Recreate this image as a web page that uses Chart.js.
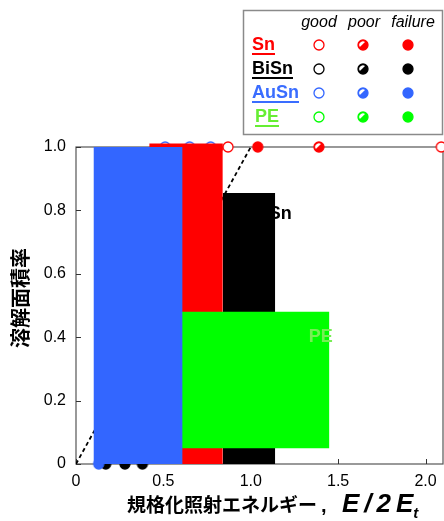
<!DOCTYPE html>
<html>
<head>
<meta charset="utf-8">
<script src="https://cdn.jsdelivr.net/npm/chart.js@4.4.1/dist/chart.umd.min.js"></script>
<style>
  html, body { margin: 0; padding: 0; background: #ffffff; }
  canvas { display: block; }
</style>
</head>
<body>
<canvas id="chart" width="444" height="521"></canvas>
<script>
// ---- Melted-area bands: energy range (x) and melted-area-fraction range (y) ----
const bandNames  = ['AuSn', 'PE', 'BiSn', 'Sn'];
const bandXStart = [0.10, 0.605, 0.84, 0.42];
const bandXEnd   = [0.61, 1.45, 1.14, 0.84];
const bandYLow   = [0.00, 0.05, 0.00, 0.00];
const bandYHigh  = [1.00, 0.48, 0.855, 1.00];

// ---- Individual test results (normalised energy, melted fraction) ----
const snGoodX    = [0.87, 2.09];
const snGoodY    = [1.0, 1.0];
const snPoorX    = [1.39];
const snPoorY    = [1.0];
const snFailX    = [1.04];
const snFailY    = [1.0];
const auSnGoodX  = [0.51, 0.65, 0.77];
const auSnGoodY  = [1.0, 1.0, 1.0];
const auSnFailX  = [0.13];
const auSnFailY  = [0.0];
const biSnFailX  = [0.17, 0.28, 0.38];
const biSnFailY  = [0.0, 0.0, 0.0];

// ---- Reference line E/2Et = melted fraction ----
const refLineX = [0, 1];
const refLineY = [0, 1];

// ---- Axes ----
const xTicks      = [0, 0.5, 1.0, 1.5, 2.0];
const xTickLabels = ['0', '0.5', '1.0', '1.5', '2.0'];
const yTicks      = [0, 0.2, 0.4, 0.6, 0.8, 1.0];
const yTickLabels = ['0', '0.2', '0.4', '0.6', '0.8', '1.0'];

// ---- In-plot band captions ----
const captionText = ['BiSn', 'PE'];
const captionX    = [1.117, 1.40];
const captionY    = [0.79, 0.40];

// ---- Legend ----
const legendSeries  = ['Sn', 'BiSn', 'AuSn', 'PE'];
const legendStates  = ['good', 'poor', 'failure'];

const COLORS = { Sn: '#ff0000', BiSn: '#000000', AuSn: '#3366ff', PE: '#00ff00' };
const LEGEND_TEXT = { Sn: '#ff0000', BiSn: '#000000', AuSn: '#3a6dff', PE: '#66ee33' };
const CAPTION_COLOR = { BiSn: '#000000', PE: '#77ee55' };
// the Sn band's top edge is stroked thick so it rises a little above the frame
const BAND_EDGE = { AuSn: 0, PE: 0, BiSn: 0, Sn: 7 };

const SANS = '"Liberation Sans", Arial, sans-serif';
const CJK = '"Noto Sans CJK JP", "Noto Sans CJK SC", sans-serif';
const R = 5;

function pts(xs, ys) { return xs.map((x, i) => ({ x: x, y: ys[i] })); }

// marker drawing shared by plot and legend
function drawMarker(ctx, x, y, color, state) {
  ctx.save();
  ctx.lineWidth = 1.3;
  ctx.strokeStyle = color;
  ctx.beginPath();
  ctx.arc(x, y, R, 0, Math.PI * 2);
  if (state === 'good') {
    ctx.fillStyle = '#ffffff';
    ctx.fill();
    ctx.stroke();
  } else if (state === 'failure') {
    ctx.fillStyle = color;
    ctx.fill();
    ctx.stroke();
  } else {
    ctx.fillStyle = color;
    ctx.fill();
    ctx.stroke();
    ctx.beginPath();
    ctx.arc(x, y, R - 1.3, Math.PI * 0.82, Math.PI * 1.68);
    ctx.closePath();
    ctx.fillStyle = '#ffffff';
    ctx.fill();
  }
  ctx.restore();
}

function markerImage(color, state) {
  const c = document.createElement('canvas');
  c.width = 14; c.height = 14;
  drawMarker(c.getContext('2d'), 7, 7, color, state);
  return c;
}

function bandDataset(name) {
  const i = bandNames.indexOf(name);
  return {
    label: name,
    data: pts([bandXStart[i], bandXEnd[i]], [bandYHigh[i], bandYHigh[i]]),
    borderWidth: BAND_EDGE[name],
    borderColor: COLORS[name],
    borderCapStyle: 'butt',
    pointRadius: 0,
    backgroundColor: COLORS[name],
    fill: { value: bandYLow[i] },
    clip: false
  };
}

function markerDataset(name, state, xs, ys) {
  return {
    label: name + ' ' + state,
    data: pts(xs, ys),
    showLine: false,
    pointStyle: markerImage(COLORS[name], state),
    pointRadius: 7,
    clip: false
  };
}

// first listed dataset is painted last (on top)
const datasets = [
  bandDataset('AuSn'),
  markerDataset('Sn', 'poor', snPoorX, snPoorY),
  markerDataset('Sn', 'failure', snFailX, snFailY),
  markerDataset('Sn', 'good', snGoodX, snGoodY),
  bandDataset('PE'),
  bandDataset('BiSn'),
  bandDataset('Sn'),
  markerDataset('AuSn', 'good', auSnGoodX, auSnGoodY),
  markerDataset('AuSn', 'failure', auSnFailX, auSnFailY),
  markerDataset('BiSn', 'failure', biSnFailX, biSnFailY),
  {
    label: 'reference',
    data: pts(refLineX, refLineY),
    borderColor: '#000000',
    borderWidth: 1.8,
    borderDash: [4, 3],
    pointRadius: 0,
    fill: false
  }
];

// frame and inward tick marks, below the data
const framePlugin = {
  id: 'frame',
  beforeDatasetsDraw(chart) {
    const { ctx, chartArea: a, scales } = chart;
    ctx.save();
    ctx.strokeStyle = '#555555';
    ctx.lineWidth = 1.2;
    ctx.strokeRect(a.left, a.top, a.right - a.left, a.bottom - a.top);
    ctx.strokeStyle = '#333333';
    ctx.lineWidth = 1;
    ctx.beginPath();
    xTicks.forEach(v => {
      const px = Math.round(scales.x.getPixelForValue(v)) + 0.5;
      ctx.moveTo(px, a.bottom); ctx.lineTo(px, a.bottom - 5);
    });
    yTicks.forEach(v => {
      const py = Math.round(scales.y.getPixelForValue(v)) + 0.5;
      ctx.moveTo(a.left, py); ctx.lineTo(a.left + 5, py);
    });
    ctx.stroke();
    ctx.restore();
  }
};

// band captions on top of the data
const captionPlugin = {
  id: 'captions',
  afterDatasetsDraw(chart) {
    const { ctx, scales } = chart;
    ctx.save();
    ctx.font = 'bold 18px ' + SANS;
    ctx.textAlign = 'center';
    ctx.textBaseline = 'middle';
    captionText.forEach((t, i) => {
      ctx.fillStyle = CAPTION_COLOR[t];
      ctx.fillText(t, scales.x.getPixelForValue(captionX[i]), scales.y.getPixelForValue(captionY[i]));
    });
    ctx.restore();
  }
};

// axis titles and the legend table
const decorPlugin = {
  id: 'decor',
  afterDraw(chart) {
    const ctx = chart.ctx;
    ctx.save();

    // y title, rotated
    ctx.translate(20, 298);
    ctx.rotate(-Math.PI / 2);
    ctx.font = 'bold 20px ' + CJK;
    ctx.fillStyle = '#000';
    ctx.textAlign = 'center';
    ctx.textBaseline = 'middle';
    ctx.fillText('溶解面積率', 0, 0);
    ctx.restore();

    // x title with italic symbol and subscript
    ctx.save();
    ctx.fillStyle = '#000';
    ctx.textBaseline = 'alphabetic';
    const base = 512;
    let x = 127;
    ctx.font = 'bold 19px ' + CJK;
    const jp = '規格化照射エネルギー';
    ctx.fillText(jp, x, base);
    x += ctx.measureText(jp).width;
    ctx.font = 'bold 20px ' + SANS;
    ctx.fillText(',', x + 4, base);
    x = 342;
    ctx.font = 'italic bold 26px ' + SANS;
    const sym = ['E', '/', '2', 'E'];
    sym.forEach(ch => {
      ctx.fillText(ch, x, base);
      x += ctx.measureText(ch).width + 5;
    });
    ctx.font = 'italic bold 15px ' + SANS;
    ctx.fillText('t', x - 5, base + 6);
    ctx.restore();

    // legend table
    ctx.save();
    ctx.strokeStyle = '#8a8a8a';
    ctx.lineWidth = 1.5;
    ctx.strokeRect(243.5, 10.5, 199, 124);
    const colX = [319, 363, 408];
    const headX = [319, 364, 413];
    ctx.font = 'italic 16px ' + SANS;
    ctx.fillStyle = '#000';
    ctx.textAlign = 'center';
    ctx.textBaseline = 'middle';
    legendStates.forEach((s, j) => ctx.fillText(s, headX[j], 23));
    const rowY = [45, 69, 93, 117];
    ctx.font = 'bold 18px ' + SANS;
    ctx.textAlign = 'left';
    legendSeries.forEach((name, i) => {
      const lx = name === 'PE' ? 255 : 252;
      ctx.fillStyle = LEGEND_TEXT[name];
      ctx.fillText(name, lx, rowY[i]);
      const w = ctx.measureText(name).width;
      ctx.fillRect(lx, rowY[i] + 8, w, 2);
      legendStates.forEach((s, j) => drawMarker(ctx, colX[j], rowY[i], COLORS[name], s));
    });
    ctx.restore();
  }
};

new Chart(document.getElementById('chart'), {
  type: 'line',
  data: { datasets: datasets },
  options: {
    responsive: false,
    animation: false,
    devicePixelRatio: 1,
    layout: { autoPadding: false, padding: { top: 147, right: 1, left: 0, bottom: 0 } },
    plugins: { legend: { display: false }, tooltip: { enabled: false } },
    elements: { line: { tension: 0 } },
    scales: {
      x: {
        type: 'linear',
        min: 0,
        max: 2.1,
        grid: { display: false, drawTicks: false },
        border: { display: false },
        afterBuildTicks(scale) { scale.ticks = xTicks.map(v => ({ value: v })); },
        afterFit(scale) {
          scale.height = 57;
          scale.paddingLeft = 0;
          scale.paddingRight = 0;
        },
        ticks: {
          autoSkip: false,
          maxRotation: 0,
          padding: 8,
          color: '#000',
          font: { family: SANS, size: 16 },
          callback: (v, i) => xTickLabels[i]
        }
      },
      y: {
        type: 'linear',
        min: 0,
        max: 1.0,
        grid: { display: false, drawTicks: false },
        border: { display: false },
        afterBuildTicks(scale) { scale.ticks = yTicks.map(v => ({ value: v })); },
        afterFit(scale) {
          scale.width = 76;
          scale.paddingTop = 0;
          scale.paddingBottom = 0;
        },
        ticks: {
          autoSkip: false,
          padding: 10,
          color: '#000',
          font: { family: SANS, size: 16 },
          callback: (v, i) => yTickLabels[i]
        }
      }
    }
  },
  plugins: [framePlugin, captionPlugin, decorPlugin]
});
</script>
</body>
</html>
